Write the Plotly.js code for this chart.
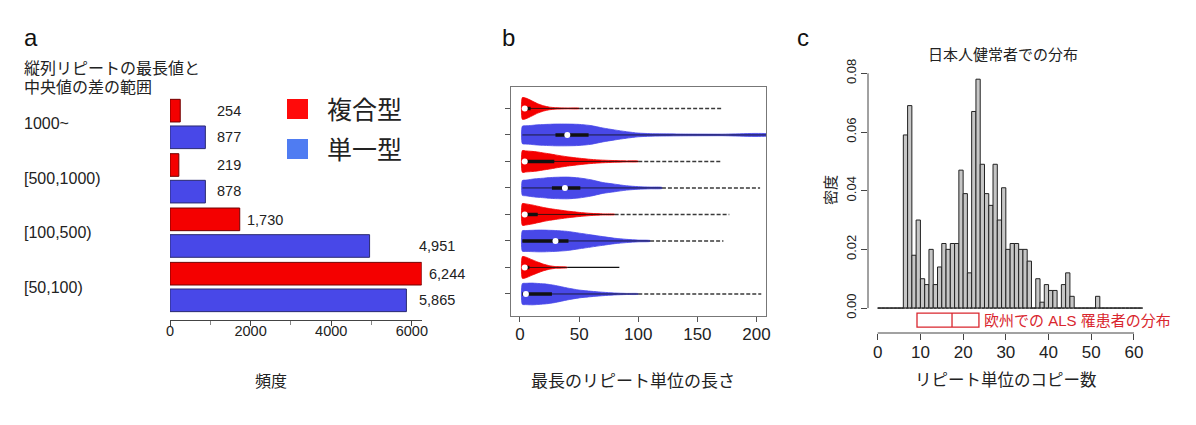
<!DOCTYPE html>
<html>
<head>
<meta charset="utf-8">
<script src="https://cdn.plot.ly/plotly-3.0.1.min.js"></script>
<style>
  html, body { margin: 0; padding: 0; background: #fff; }
  #fig { width: 1196px; height: 425px; }
</style>
</head>
<body>
<div id="fig"></div>
<script>
/* ---------- data ---------- */
// a: 縦列リピートの最長値と中央値の差の範囲 × 型
const rangeCats = ["1000~", "[500,1000)", "[100,500)", "[50,100)"];
const typeNames = ["複合型", "単一型"];
const compoundCounts = [254, 219, 1730, 6244];
const singleCounts = [877, 878, 4951, 5865];
const freqTicks = [0, 2000, 4000, 6000];
const freqMinor = [1000, 3000, 5000];

// b: violin rows, top -> bottom (relative half-width read along vioGrid)
const vioGrid = [2, 5, 10, 15, 20, 25, 30, 40, 50, 60, 70, 80, 90, 100, 110, 120, 140, 170, 210];
const vioWidths = [
  [1.00, 0.95, 0.70, 0.43, 0.24, 0.12, 0.07, 0.04, 0.03, 0, 0, 0, 0, 0, 0, 0, 0, 0, 0],
  [0.80, 0.84, 0.88, 0.93, 0.96, 0.98, 1.00, 1.00, 0.97, 0.86, 0.64, 0.46, 0.30, 0.17, 0.12, 0.10, 0.08, 0.07, 0.08],
  [1.00, 0.97, 0.93, 0.87, 0.78, 0.70, 0.60, 0.43, 0.30, 0.19, 0.12, 0.08, 0.05, 0.03, 0, 0, 0, 0, 0],
  [0.68, 0.72, 0.80, 0.86, 0.90, 0.95, 0.98, 1.00, 0.92, 0.75, 0.50, 0.35, 0.20, 0.12, 0.08, 0.05, 0, 0, 0],
  [1.00, 0.97, 0.88, 0.76, 0.64, 0.54, 0.46, 0.31, 0.19, 0.10, 0.05, 0.03, 0, 0, 0, 0, 0, 0, 0],
  [0.94, 0.96, 0.98, 1.00, 1.00, 0.98, 0.96, 0.88, 0.72, 0.56, 0.40, 0.25, 0.15, 0.08, 0.04, 0, 0, 0, 0],
  [1.00, 0.95, 0.72, 0.50, 0.30, 0.16, 0.08, 0.03, 0, 0, 0, 0, 0, 0, 0, 0, 0, 0, 0],
  [0.95, 0.98, 1.00, 0.97, 0.93, 0.87, 0.78, 0.55, 0.36, 0.25, 0.16, 0.09, 0.05, 0.03, 0, 0, 0, 0, 0],
];
const vioType = ["複合型", "単一型", "複合型", "単一型", "複合型", "単一型", "複合型", "単一型"];
const vioMedian = [4, 40, 4, 38, 4, 30, 4, 5];
const vioQ1 = [2, 30, 2, 27, 2, 2, 2, 2];
const vioQ3 = [9, 58, 29, 51, 15, 41, 8, 27];
const vioMax = [171, 210, 171, 203, 177, 172, 84, 204];
const vioTail = ["dash", "solid", "dash", "dash", "dash", "dash", "solid", "dash"];
const lenTicks = [0, 50, 100, 150, 200];

// c: 日本人健常者での分布 (bin k = [k, k+1))
const copyDensity = [
  0, 0, 0, 0, 0, 0, 0.059, 0.069, 0.018, 0.030,
  0.010, 0.008, 0.020, 0.008, 0.014, 0.022, 0.020, 0.022, 0.022, 0.047,
  0.039, 0.012, 0.067, 0.078, 0.049, 0.039, 0.035, 0.049, 0.030, 0.041,
  0.020, 0.022, 0.022, 0.020, 0.020, 0.016, 0, 0.010, 0.002, 0.008,
  0.006, 0.006, 0, 0.008, 0.012, 0.004, 0, 0, 0, 0,
  0, 0.004, 0, 0, 0, 0, 0, 0, 0, 0,
  0, 0,
];
const alsQuartiles = [9.2, 17.4, 23.7];   // 欧州での ALS 罹患者
const copyTicks = [0, 10, 20, 30, 40, 50, 60];
const densTicks = [0, 0.02, 0.04, 0.06, 0.08];

/* ---------- helpers ---------- */
const W = 1196, H = 425;
const px = x => x / W;
const py = y => 1 - y / H;
const FONT = "Liberation Sans, Arial, Noto Sans CJK JP, sans-serif";
const INK = "#222";
const COL = { "複合型": "#f40000", "単一型": "#4848e8" };
const LEGCOL = { "複合型": "#ff0a0a", "単一型": "#4f7cf2" };
const fmt = v => v.toLocaleString("en-US");

const traces = [];
const shapes = [];
const annotations = [];
const note = (text, x, y, o) => annotations.push(Object.assign({
  text, x: px(x), y: py(y), xref: "paper", yref: "paper", showarrow: false,
  xanchor: "center", yanchor: "middle",
  font: { family: FONT, size: 16, color: INK },
}, o || {}));

/* ---------- a ---------- */
[compoundCounts, singleCounts].forEach((vals, i) => {
  traces.push({
    type: "bar", orientation: "h", name: typeNames[i],
    x: vals, y: rangeCats, xaxis: "x", yaxis: "y",
    marker: { color: COL[typeNames[i]], line: { color: i ? "#2a2a70" : "#700000", width: 1 } },
    hoverinfo: "x+name",
  });
  vals.forEach((v, j) => {
    const lx = v < 1000 ? 1000 : v > 4500 ? Math.max(v, 6000) : v;
    annotations.push({
      text: fmt(v), x: lx, y: rangeCats[j], xref: "x", yref: "y",
      xanchor: "left", yanchor: "middle", xshift: 5, yshift: i ? -13 : 13, showarrow: false,
      font: { family: FONT, size: 14.5, color: INK },
    });
  });
});
rangeCats.forEach(c => annotations.push({
  text: c, x: px(22), y: c, xref: "paper", yref: "y", xanchor: "left", yanchor: "middle",
  showarrow: false, font: { family: FONT, size: 16, color: INK },
}));
note("縦列リピートの最長値と", 22, 68, { xanchor: "left" });
note("中央値の差の範囲", 22, 87, { xanchor: "left" });
note("a", 22, 38, { xanchor: "left", font: { family: FONT, size: 24, color: "#111" } });
note("頻度", 271, 381);
typeNames.forEach((t, i) => {
  const top = 99 + i * 40;
  shapes.push({ type: "rect", xref: "paper", yref: "paper",
    x0: px(287), x1: px(308), y0: py(top), y1: py(top + 20),
    fillcolor: LEGCOL[t], line: { width: 0 } });
  note(t, 325, top + 11, { xanchor: "left", font: { family: FONT, size: 25, color: INK } });
});

/* ---------- b ---------- */
const HALF = 0.41;
vioWidths.forEach((w, i) => {
  const yc = vioWidths.length - i;
  const idx = w.map((v, k) => k).filter(k => w[k] > 0);
  const xs = idx.map(k => vioGrid[k]);
  const up = idx.map(k => yc + w[k] * HALF);
  const lo = idx.map(k => yc - w[k] * HALF);
  const end = xs[xs.length - 1];
  traces.push({
    type: "scatter", mode: "lines", xaxis: "x2", yaxis: "y2",
    x: xs.concat(xs.slice().reverse(), [xs[0]]),
    y: up.concat(lo.slice().reverse(), [up[0]]),
    fill: "toself", fillcolor: COL[vioType[i]],
    line: { color: COL[vioType[i]], width: 0.8, shape: "spline", smoothing: 0.6 },
    hoverinfo: "skip",
  });
  // tail to the maximum
  traces.push({
    type: "scatter", mode: "lines", xaxis: "x2", yaxis: "y2",
    x: [end, vioMax[i]], y: [yc, yc],
    line: vioTail[i] === "dash" ? { color: "#3a3a3a", width: 1.6, dash: "4px,2px" }
                                : { color: "#111", width: 1.2 },
    hoverinfo: "skip",
  });
  // thin centre line, IQR bar, median
  traces.push({
    type: "scatter", mode: "lines", xaxis: "x2", yaxis: "y2",
    x: [vioGrid[0], end], y: [yc, yc], line: { color: "#111", width: 0.8 }, hoverinfo: "skip",
  });
  traces.push({
    type: "scatter", mode: "lines", xaxis: "x2", yaxis: "y2",
    x: [vioQ1[i], vioQ3[i]], y: [yc, yc], line: { color: "#111", width: 3.5 }, hoverinfo: "skip",
  });
  traces.push({
    type: "scatter", mode: "markers", xaxis: "x2", yaxis: "y2",
    x: [vioMedian[i]], y: [yc], marker: { color: "#fff", size: 6 }, hoverinfo: "x",
  });
});
note("b", 500, 38, { xanchor: "left", font: { family: FONT, size: 24, color: "#111" } });
note("最長のリピート単位の長さ", 633, 381, { font: { family: FONT, size: 17, color: INK } });

/* ---------- c ---------- */
traces.push({
  type: "bar", xaxis: "x3", yaxis: "y3",
  x: copyDensity.map((d, k) => k + 0.5), y: copyDensity,
  width: copyDensity.map(() => 1),
  marker: { color: "#c6c6c6", line: { color: "#222", width: 1 } },
  hoverinfo: "x+y",
});
traces.push({
  type: "scatter", mode: "lines", xaxis: "x3", yaxis: "y3",
  x: [0, copyDensity.length], y: [0, 0],
  line: { color: "#333", width: 1.2, dash: "3px,1px" }, hoverinfo: "skip",
});
traces.push({
  type: "box", orientation: "h", xaxis: "x3", yaxis: "y3",
  y: [-0.0041], q1: [alsQuartiles[0]], median: [alsQuartiles[1]], q3: [alsQuartiles[2]],
  lowerfence: [alsQuartiles[0]], upperfence: [alsQuartiles[2]],
  width: 0.0048, boxpoints: false, whiskerwidth: 0,
  fillcolor: "#fff", line: { color: "#d9262e", width: 1.3 }, hoverinfo: "skip",
});
annotations.push({
  text: "欧州での ALS 罹患者の分布", x: alsQuartiles[2], y: -0.0041, xref: "x3", yref: "y3",
  xanchor: "left", yanchor: "middle", xshift: 3, showarrow: false,
  font: { family: FONT, size: 15, color: "#d9262e" },
});
// R-style axis lines spanning the tick range only
shapes.push({ type: "line", xref: "x3", yref: "paper", x0: copyTicks[0], x1: copyTicks[copyTicks.length - 1],
  y0: py(333), y1: py(333), line: { color: "#444", width: 1 } });
shapes.push({ type: "line", xref: "paper", yref: "y3", x0: px(868), x1: px(868),
  y0: densTicks[0], y1: densTicks[densTicks.length - 1], line: { color: "#444", width: 1 } });
note("c", 795, 38, { xanchor: "left", font: { family: FONT, size: 24, color: "#111" } });
note("日本人健常者での分布", 1003, 55, { font: { family: FONT, size: 15, color: INK } });
note("密度", 831, 190, { textangle: -90, font: { family: FONT, size: 15, color: INK } });
note("リピート単位のコピー数", 1006, 380, { font: { family: FONT, size: 16.5, color: INK } });

/* ---------- layout ---------- */
const tickFont = s => ({ family: FONT, size: s, color: INK });
const layout = {
  width: W, height: H, autosize: false,
  margin: { l: 0, r: 0, t: 0, b: 0 },
  paper_bgcolor: "#fff", plot_bgcolor: "rgba(0,0,0,0)",
  showlegend: false, barmode: "group", bargap: 0.02, bargroupgap: 0.15,
  font: { family: FONT, color: INK },
  xaxis: {
    domain: [px(170), px(421.7)], anchor: "y",
    range: [0, Math.max(...compoundCounts, ...singleCounts)],
    tickmode: "array", tickvals: freqTicks, ticks: "outside", ticklen: 5, tickcolor: "#444",
    minor: { tickmode: "array", tickvals: freqMinor, ticks: "outside", ticklen: 4, tickcolor: "#888" },
    showline: true, linecolor: "#444", linewidth: 1, showgrid: false, zeroline: false,
    tickfont: tickFont(14.5), ticklabelstandoff: -7,
  },
  yaxis: {
    domain: [py(320), py(96.8)], anchor: "x",
    type: "category", categoryorder: "array", categoryarray: rangeCats,
    range: [3.607, -0.5], showticklabels: false, ticks: "", showline: false,
    showgrid: false, zeroline: false,
  },
  xaxis2: {
    domain: [px(511), px(766)], anchor: "y2", range: [-7.6, 208],
    tickmode: "array", tickvals: lenTicks, ticks: "outside", ticklen: 5, tickcolor: "#555",
    showline: true, mirror: true, linecolor: "#777", linewidth: 1,
    showgrid: false, zeroline: false, tickfont: tickFont(17), ticklabelstandoff: -2,
  },
  yaxis2: {
    domain: [py(315.7), py(86.7)], anchor: "x2", range: [0.18, 8.82],
    tickmode: "array", tickvals: vioWidths.map((w, i) => i + 1), ticks: "outside", ticklen: 5,
    tickcolor: "#555", showticklabels: false,
    showline: true, mirror: true, linecolor: "#777", linewidth: 1,
    showgrid: false, zeroline: false,
  },
  xaxis3: {
    domain: [px(868), px(1153)], anchor: "y3", range: [-2.27, 64.45],
    tickmode: "array", tickvals: copyTicks, ticks: "outside", ticklen: 6, tickcolor: "#444",
    showline: false, showgrid: false, zeroline: false, tickfont: tickFont(17), ticklabelstandoff: -2,
  },
  yaxis3: {
    domain: [py(333), py(69.8)], anchor: "x3", range: [-0.0085, 0.0812],
    tickmode: "array", tickvals: densTicks, tickformat: ".2f", tickangle: -90,
    ticks: "outside", ticklen: 6, tickcolor: "#444",
    showline: false, showgrid: false, zeroline: false, tickfont: tickFont(13),
  },
  shapes, annotations,
};

Plotly.newPlot("fig", traces, layout, { displayModeBar: false, staticPlot: true });
</script>
</body>
</html>
